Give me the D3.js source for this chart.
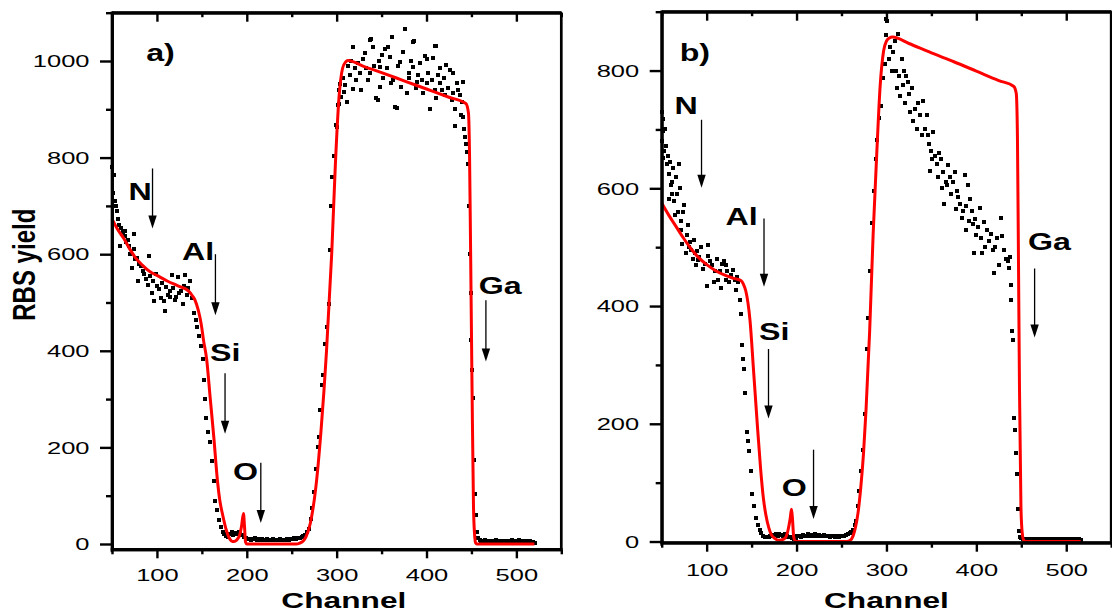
<!DOCTYPE html>
<html><head><meta charset="utf-8">
<script src="https://cdnjs.cloudflare.com/ajax/libs/d3/7.8.5/d3.min.js"></script>
<style>body{margin:0;background:#fff}svg{display:block}</style>
</head><body>
<svg id="c" width="1112" height="612"></svg>
<script>
// ---------------- data ----------------
const channelTicks = [100, 200, 300, 400, 500];
const channelMinor = [50, 150, 250, 350, 450, 550];
const aYieldTicks = [0, 200, 400, 600, 800, 1000];
const aYieldMinor = [100, 300, 500, 700, 900, 1100];
const bYieldTicks = [0, 200, 400, 600, 800];
const bYieldMinor = [100, 300, 500, 700, 900];
const elements = ["N", "Al", "Si", "O", "Ga"];

// measured spectrum, panel a  [channel, yield]
const aPoints = [
[50,780],[51,726],[52,765],[53,710],[54,700],[56,690],[57,672],[58,661],[59,617],[60,655],[62,645],[64,649],[65,637],[66,625],[68,630],[69,617],[70,600],[72,572],[74,610],[75,641],[76,590],[78,593],[79,544],[80,580],[82,576],[84,565],[86,560],[88,548],[90,536],[91,597],[92,555],[94,520],[96,544],[97,504],[99,560],[100,535],[102,528],[104,510],[106,540],[108,504],[109,483],[110,532],[112,515],[114,512],[115,524],[117,556],[118,530],[120,505],[121,512],[123,552],[125,520],[127,524],[129,496],[130,535],[131,556],[133,515],[135,530],[137,544],[139,510],[141,479],[143,463],[145,450],[147,431],[149,410],
[151,383],[152,340],[153,300],[155,261],[157,232],[159,211],[161,171],[163,130],[165,90],[167,70],[169,50],[171,35],[173,25],[175,20],[177,16],[179,14],
[181,20],[183,24],[185,18],[187,22],[189,20],[191,25],[193,22],[195,18],[197,14],[199,12],[201,10],[203,11],[205,9],[207,10],[209,12],[211,9],[213,10],[215,8],[217,11],[219,9],[221,8],[223,10],[225,9],[227,8],[229,10],[231,8],[233,9],[235,8],[237,10],[239,9],[241,8],[243,9],[245,10],[247,9],[249,11],[251,10],[253,12],[255,11],[257,13],[259,12],[261,14],[263,16],
[265,18],[267,24],[269,32],[271,51],[273,75],[275,107],[277,156],[279,200],[280,221],[282,277],[284,330],[285,350],[287,415],[289,450],[291,496],[293,609],[294,700],[295,760],[297,803],[299,867],[300,864],[301,908],[303,940],[303,912],[304,952],
[305,925],[307,964],[308,935],[309,950],[311,916],[313,990],[315,971],[316,1000],[318,1030],[318,943],[320,985],[322,960],[324,995],[326,975],[327,940],[329,1005],[331,1017],[333,985],[335,960],[337,1043],[337,975],[338,1045],[340,1028],[342,990],[344,923],[346,920],[347,1000],[348,988],[348,947],[350,1012],[352,964],[354,1025],[356,985],[357,1028],[359,1009],[361,955],[362,1050],[363,961],[365,904],[367,902],[368,990],[370,998],[372,947],[374,1019],[376,1066],[378,933],[380,965],[381,975],[383,1000],[385,1040],[385,988],[386,1041],[388,945],[389,957],[391,970],[393,995],[395,960],[396,933],[398,1010],[400,1004],[400,954],[402,975],[404,900],[406,960],[407,1006],[409,940],[410,1031],[411,1032],[411,923],[413,970],[415,985],[415,954],[417,940],[419,965],[421,930],[422,992],[424,945],[426,981],[428,920],[430,975],[430,933],[432,866],[432,900],[434,954],[435,940],[437,930],[438,888],[439,915],[441,957],[441,885],
[442,860],[443,843],[444,829],[445,812],[446,787],[447,700],[448,601],[449,520],[450,423],[451,360],[452,302],[453,173],[454,104],[455,59],[456,25],[457,12],
[459,8],[461,7],[463,6],[465,8],[467,6],[469,7],[471,6],[473,5],[475,6],[477,8],[479,6],[481,5],[483,6],[485,7],[487,6],[489,5],[491,6],[493,7],[495,8],[497,7],[499,6],[501,7],[503,8],[505,7],[507,6],[509,7],[511,6],[513,5],[515,6],[517,5],[519,4],[521,3]
];
// simulated fit, panel a
const aFit = [
[50,673],[56,652],[63,633],[70,610],[76,593],[84,577],[92,564],[100,556],[112,544],[124,534],[135,524],[139,515],[142.6,504],[146,484],[149.3,455],[152,420],[155.3,383],[159.3,302],[163.3,221],[167.3,132],[170,90],[173.3,59],[177,30],[181.2,10],[184,5],[187.2,6],[190,11],[192,18],[194,35],[196.3,63],[197.5,35],[198.6,4],[200,0],[255,0],[259,2],[262.8,6],[266,15],[270.7,43],[276.7,115],[282.7,237],[288.7,399],[294.5,601],[298.6,787],[302.6,924],[306.6,985],[310,998],[312.5,1001],[330,989],[350,976],[375,959],[400,942],[425,925],[443.8,912],[446.7,892],[447.9,803],[449.1,601],[450.7,318],[452.3,76],[453.5,20],[454.7,2],[456,0],[520,0]
];

// measured spectrum, panel b
const bPoints = [
[50,730],[50,680],[51,697],[51,651],[52,717],[53,664],[54,700],[55,672],[56,641],[57,655],[58,625],[58,581],[59,645],[60,605],[61,611],[62,590],[63,634],[64,578],[65,555],[66,620],[67,591],[68,560],[69,641],[70,600],[71,529],[72,545],[73,506],[74,560],[75,571],[77,490],[78,520],[79,538],[80,500],[82,509],[83,495],[85,480],[86,512],[87,490],[88,470],[89,493],[90,478],[92,483],[94,500],[96,463],[98,472],[100,434],[101,485],[102,503],[104,477],[106,470],[108,441],[109,460],[111,480],[113,445],[115,460],[116,430],[117,472],[119,477],[121,470],[122,445],[123,460],[125,440],[127,453],[129,462],[131,444],[133,427],[134,450],[135,440],
[137,410],[138,387],[139,333],[140,310],[141,293],[143,253],[145,186],[146,170],[147,153],[149,120],[151,80],[153,60],[155,40],[157,28],[159,20],[161,14],[163,10],
[165,8],[167,7],[169,8],[171,9],[173,10],[175,11],[177,12],[179,10],[181,12],[183,11],[185,9],[187,12],[189,10],[191,8],[193,7],[195,6],[197,5],[199,6],[201,9],[203,10],[205,8],[207,11],[209,9],[211,10],[213,12],[215,10],[217,11],[219,9],[221,12],[223,10],[225,11],[227,9],[229,10],[231,11],[233,9],[235,10],[237,8],[239,9],[241,10],[243,8],[245,9],[247,8],[249,9],[251,10],[253,9],[255,11],[257,12],[259,14],[261,16],[263,20],
[265,28],[266,35],[268,60],[270,85],[272,120],[274,155],[276,216],[278,327],[280,380],[282,460],[284,541],[286,595],[288,650],[290,682],[292,720],[294,740],[296,787],[298,812],[299,860],[300,887],[301,885],
[303,820],[304,840],[306,800],[307,832],[309,850],[311,800],[312,770],[313,862],[314,790],[315,757],[317,820],[318,775],[320,800],[321,745],[322,790],[324,780],[325,760],[326,730],[328,770],[330,715],[332,735],[334,701],[335,745],[337,725],[339,690],[341,748],[343,700],[345,725],[346,690],[347,675],[348,629],[350,663],[351,650],[352,695],[354,655],[356,641],[357,620],[359,660],[361,649],[362,600],[363,628],[364,573],[366,610],[367,606],[369,640],[371,620],[372,590],[374,610],[376,628],[377,565],[378,596],[380,585],[382,574],[384,550],[385,561],[387,623],[388,570],[389,530],[391,605],[392,545],[393,581],[395,561],[396,540],[397,490],[398,548],[400,520],[402,535],[404,567],[405,515],[406,490],[408,542],[410,500],[412,529],[414,510],[416,522],[418,495],[420,456],[421,500],[423,516],[425,470],[427,550],[429,519],[431,495],[433,480],[435,476],[436,465],[437,483],
[438,436],[439,410],[440,357],[441,343],[442,210],[443,190],[444,150],[445,114],[446,55],[447,18],[448,8],
[450,6],[452,5],[454,5],[456,4],[458,5],[460,4],[462,5],[464,4],[466,5],[468,4],[470,4],[472,5],[474,4],[476,5],[478,4],[480,4],[482,5],[484,4],[486,5],[488,4],[490,4],[492,5],[494,4],[496,4],[498,5],[500,4],[502,4],[504,5],[506,4],[508,4],[510,5],[512,4],[514,4],[516,3]
];
// simulated fit, panel b
const bFit = [
[50,575],[58,554],[66,535],[74,516],[81.8,499],[90,484],[101.3,469],[110,460],[120.9,452],[130,447],[138.4,443],[141,437],[143.5,426],[146,405],[148.2,376],[152.2,290],[156.1,204],[160,124],[163,75],[165.9,45],[169,24],[171.8,12],[176,5],[179.6,2],[184,3],[187.4,6],[189.5,13],[191.3,25],[193,40],[194.4,55],[195.5,38],[196.8,8],[198.3,1],[200,0],[256,0],[259.8,2],[263,10],[265.7,25],[268.5,50],[271.4,91],[274.5,150],[277.3,224],[281.3,357],[285.2,522],[289.1,655],[293,774],[296.9,834],[300,850],[302.8,855],[306.8,857],[325,846],[350,830],[375,815],[400,799],[425,783],[441.7,773],[444.4,761],[445.7,688],[446.8,489],[448,257],[449.6,58],[451,15],[452.7,2],[455,0],[516,0]
];

// annotations in data coordinates
const aTag = "a)", bTag = "b)";
const aTagPos = [88, 1000];
const bTagPos = [70, 817];
const aLabelPos = [[68.5,713],[128,589],[159.1,378],[184.7,132],[458.2,517]];
const aArrows = [[95.1,777.5,653],[165.1,600,473.5],[175.8,353.6,228],[215.6,168,43.4],[466.1,504.5,378]];
const bLabelPos = [[64.1,726],[121,537],[158.2,343],[183.6,76.5],[457.5,495]];
const bArrows = [[94.3,716.4,600.8],[163.8,548.8,432.6],[168.8,327,209],[218.9,156,38.3],[464.8,463.8,346.6]];

// ---------------- layout ----------------
const FONT = "'Liberation Sans', Arial, Helvetica, sans-serif";
const svg = d3.select("#c");

const panels = [
  {x0:112, x1:561.3, yb:549.3, yt:12.7, ydom:[-11,1100], yt1:aYieldTicks, ytm:aYieldMinor,
   pts:aPoints, fit:aFit, tag:aTag, tagPos:aTagPos, labels:aLabelPos, arrows:aArrows, xlabBase:31.4, chanCh:308},
  {x0:661.7, x1:1111.2, yb:542.7, yt:11.7, ydom:[-2,900], yt1:bYieldTicks, ytm:bYieldMinor,
   pts:bPoints, fit:bFit, tag:bTag, tagPos:bTagPos, labels:bLabelPos, arrows:bArrows, xlabBase:33, chanCh:300}
];

function stretchText(g, x, y, str, size, weight, sx, anchor) {
  return g.append("text")
    .attr("transform", `translate(${x},${y}) scale(${sx},1)`)
    .attr("text-anchor", anchor || "start")
    .style("font-family", FONT).style("font-size", size + "px")
    .style("font-weight", weight).attr("fill", "#000").text(str);
}

panels.forEach(p => {
  const x = d3.scaleLinear().domain([50, 550]).range([p.x0, p.x1]);
  const y = d3.scaleLinear().domain(p.ydom).range([p.yb, p.yt]);
  const g = svg.append("g");

  // scatter points
  g.append("g").selectAll("rect").data(p.pts).join("rect")
    .attr("x", d => Math.round(x(d[0]) - 2)).attr("y", d => Math.round(y(d[1]) - 2))
    .attr("width", 4).attr("height", 4).attr("fill", "#000")
    .attr("shape-rendering", "crispEdges");

  // fit curve
  g.append("path").datum(p.fit)
    .attr("d", d3.line().x(d => x(d[0])).y(d => y(d[1])).curve(d3.curveMonotoneX))
    .attr("fill", "none").attr("stroke", "#ff0000").attr("stroke-width", 3).attr("stroke-linejoin", "round");

  // axes
  const axStyle = sel => {
    sel.selectAll("path").attr("stroke-width", 2.7);
    sel.selectAll("line").attr("stroke-width", 2.4);
    sel.selectAll("text").style("font-family", FONT).style("font-size", "17px").attr("fill", "#000");
  };
  const fmt = d3.format("d");
  const bx = g.append("g").attr("transform", `translate(0,${p.yb})`)
    .call(d3.axisBottom(x).tickValues(channelTicks).tickSize(9).tickSizeOuter(0).tickPadding(0).tickFormat(fmt));
  axStyle(bx);
  bx.selectAll("text").attr("y", p.xlabBase).attr("dy", 0).attr("transform", "scale(1.5,1)");
  const bxm = g.append("g").attr("transform", `translate(0,${p.yb})`)
    .call(d3.axisBottom(x).tickValues(channelMinor).tickSize(5).tickSizeOuter(0).tickFormat(""));
  axStyle(bxm);
  [[channelTicks, 9], [channelMinor, 4.5]].forEach(([tv, ts]) => {
    const t = g.append("g").attr("transform", `translate(0,${p.yt})`)
      .call(d3.axisTop(x).tickValues(tv).tickSize(-ts).tickSizeOuter(0).tickFormat(""));
    axStyle(t);
  });
  const ly = g.append("g").attr("transform", `translate(${p.x0},0)`)
    .call(d3.axisLeft(y).tickValues(p.yt1).tickSize(12).tickSizeOuter(0).tickPadding(0).tickFormat(fmt));
  axStyle(ly);
  ly.selectAll("text").attr("x", -22.5 / 1.5).attr("dy", "0.34em").attr("transform", "scale(1.5,1)");
  const lym = g.append("g").attr("transform", `translate(${p.x0},0)`)
    .call(d3.axisLeft(y).tickValues(p.ytm).tickSize(6).tickSizeOuter(0).tickFormat(""));
  axStyle(lym);
  // frame lines
  g.append("line").attr("x1", p.x1).attr("x2", p.x1).attr("y1", p.yt).attr("y2", p.yb)
    .attr("stroke", "#000").attr("stroke-width", 2.7);
  g.append("line").attr("x1", p.x0).attr("x2", p.x1).attr("y1", p.yt).attr("y2", p.yt)
    .attr("stroke", "#000").attr("stroke-width", 2.7);
  g.append("line").attr("x1", p.x0).attr("x2", p.x0).attr("y1", p.yt - 1.3).attr("y2", p.yb + 3)
    .attr("stroke", "#000").attr("stroke-width", 2.7);
  g.append("line").attr("x1", p.x0 - 1.3).attr("x2", p.x1 + 1.3).attr("y1", p.yb).attr("y2", p.yb)
    .attr("stroke", "#000").attr("stroke-width", 2.7);

  // x title
  stretchText(g, x(p.chanCh), 607.5, "Channel", 22, "bold", 1.44, "middle");

  // tag
  stretchText(g, x(p.tagPos[0]), y(p.tagPos[1]), p.tag, 23, "bold", 1.4, "start");

  // element labels
  elements.forEach((el, i) => {
    stretchText(g, x(p.labels[i][0]), y(p.labels[i][1]), el, 23, "bold", 1.4, "start");
  });
  // arrows
  p.arrows.forEach(a => {
    const ax = x(a[0]), y1 = y(a[1]), y2 = y(a[2]);
    g.append("line").attr("x1", ax).attr("x2", ax).attr("y1", y1).attr("y2", y2 - 10)
      .attr("stroke", "#000").attr("stroke-width", 1.3);
    g.append("path").attr("d", `M${ax - 4.2},${y2 - 13} L${ax + 4.2},${y2 - 13} L${ax},${y2} Z`).attr("fill", "#000");
  });
});

// y title (panel a)
svg.append("text")
  .attr("transform", "translate(35,264.7) scale(1.3,1) rotate(-90)")
  .attr("text-anchor", "middle")
  .style("font-family", FONT).style("font-size", "24px").style("font-weight", "bold")
  .text("RBS yield");
</script>
</body></html>
